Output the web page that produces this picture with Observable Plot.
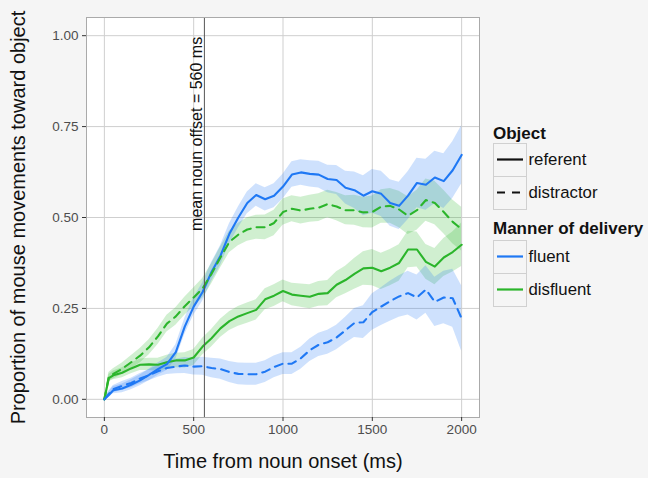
<!DOCTYPE html>
<html>
<head>
<meta charset="utf-8">
<script src="https://cdn.jsdelivr.net/npm/d3@7"></script>
<script src="https://cdn.jsdelivr.net/npm/@observablehq/plot@0.6"></script>
<style>
  html, body { margin: 0; padding: 0; background: #f5f5f5; }
  #wrap { position: relative; width: 648px; height: 478px; font-family: "Liberation Sans", Arial, sans-serif; }
  #legend { position: absolute; left: 0; top: 0; pointer-events: none; }
</style>
</head>
<body>
<div id="wrap"></div>
<script>
// ---- data ----
const times = [0,25,50,100,150,200,250,300,350,400,450,500,550,600,650,700,750,800,850,900,950,1000,1050,1100,1150,1200,1250,1300,1350,1400,1450,1500,1550,1600,1650,1700,1750,1800,1850,1900,1950,2000];

const fluentReferent = [0,0.012,0.025,0.03,0.04,0.052,0.067,0.083,0.097,0.13,0.2,0.255,0.295,0.35,0.395,0.455,0.5,0.54,0.562,0.55,0.56,0.585,0.618,0.624,0.62,0.618,0.606,0.603,0.582,0.575,0.56,0.572,0.565,0.54,0.532,0.56,0.595,0.59,0.61,0.6,0.63,0.672];
const fluentReferentSE = [0.003,0.008,0.01,0.012,0.014,0.015,0.016,0.017,0.018,0.02,0.022,0.024,0.025,0.026,0.027,0.028,0.029,0.03,0.031,0.032,0.033,0.034,0.035,0.035,0.036,0.037,0.038,0.04,0.045,0.05,0.055,0.06,0.062,0.064,0.065,0.066,0.068,0.07,0.072,0.075,0.078,0.08];

const fluentDistractor = [0,0.015,0.028,0.037,0.045,0.057,0.066,0.077,0.086,0.09,0.093,0.09,0.091,0.086,0.083,0.075,0.07,0.069,0.069,0.076,0.089,0.098,0.098,0.113,0.135,0.15,0.157,0.17,0.19,0.21,0.212,0.24,0.255,0.27,0.283,0.292,0.28,0.302,0.268,0.28,0.278,0.222];
const fluentDistractorSE = [0.003,0.008,0.01,0.012,0.013,0.014,0.015,0.016,0.018,0.02,0.022,0.023,0.025,0.027,0.028,0.029,0.03,0.03,0.03,0.03,0.03,0.03,0.03,0.03,0.031,0.032,0.033,0.034,0.036,0.04,0.045,0.05,0.052,0.055,0.057,0.06,0.062,0.065,0.068,0.072,0.08,0.09];

const disfluentReferent = [0,0.058,0.066,0.073,0.085,0.095,0.096,0.095,0.102,0.107,0.107,0.115,0.145,0.168,0.195,0.215,0.228,0.237,0.246,0.275,0.285,0.298,0.288,0.285,0.282,0.29,0.292,0.315,0.328,0.345,0.36,0.362,0.352,0.362,0.375,0.412,0.412,0.378,0.365,0.39,0.405,0.425];
const disfluentReferentSE = [0.003,0.01,0.012,0.014,0.015,0.016,0.017,0.018,0.019,0.02,0.021,0.022,0.023,0.024,0.025,0.026,0.027,0.028,0.028,0.029,0.03,0.03,0.031,0.032,0.033,0.034,0.035,0.036,0.038,0.042,0.046,0.05,0.05,0.05,0.05,0.05,0.048,0.048,0.05,0.052,0.055,0.06];

const disfluentDistractor = [0,0.062,0.07,0.084,0.102,0.12,0.143,0.173,0.208,0.228,0.256,0.28,0.305,0.345,0.39,0.433,0.453,0.467,0.473,0.473,0.485,0.515,0.524,0.519,0.524,0.527,0.537,0.53,0.52,0.52,0.514,0.515,0.53,0.532,0.522,0.505,0.52,0.548,0.54,0.515,0.488,0.468];
const disfluentDistractorSE = [0.003,0.012,0.014,0.016,0.018,0.02,0.021,0.022,0.023,0.024,0.025,0.026,0.027,0.028,0.029,0.03,0.031,0.032,0.033,0.034,0.035,0.036,0.036,0.037,0.037,0.038,0.038,0.039,0.04,0.041,0.042,0.044,0.046,0.048,0.05,0.052,0.055,0.058,0.06,0.06,0.06,0.06];

const xTicks = [0, 500, 1000, 1500, 2000];
const yTicks = [0, 0.25, 0.5, 0.75, 1];
const nounOffset = [560];
const objects = ["referent", "distractor"];
const manners = ["fluent", "disfluent"];
const mannerColors = ["#1f78f4", "#2bb52b"];

// ---- table ----
const seriesDefs = [
  {object: "referent", manner: "disfluent", v: disfluentReferent, se: disfluentReferentSE},
  {object: "distractor", manner: "disfluent", v: disfluentDistractor, se: disfluentDistractorSE},
  {object: "referent", manner: "fluent", v: fluentReferent, se: fluentReferentSE},
  {object: "distractor", manner: "fluent", v: fluentDistractor, se: fluentDistractorSE}
];
const rows = [];
for (const s of seriesDefs) {
  times.forEach((t, i) => rows.push({
    t, v: s.v[i], lo: s.v[i] - s.se[i], hi: s.v[i] + s.se[i],
    object: s.object, manner: s.manner, series: s.manner + "-" + s.object
  }));
}
const refRows = rows.filter(d => d.object === "referent");
const disRows = rows.filter(d => d.object === "distractor");

const font = "'Liberation Sans', Arial, sans-serif";

const chart = Plot.plot({
  width: 648,
  height: 478,
  marginLeft: 86,
  marginRight: 169,
  marginTop: 17,
  marginBottom: 61,
  style: {background: "#f5f5f5", fontFamily: font, overflow: "visible"},
  x: {domain: [-100, 2100]},
  y: {domain: [-0.05, 1.05]},
  color: {domain: manners, range: mannerColors},
  marks: [
    Plot.frame({fill: "white", stroke: null}),
    Plot.gridX(xTicks, {stroke: "#cfcfcf", strokeOpacity: 1, strokeWidth: 1}),
    Plot.gridY(yTicks, {stroke: "#cfcfcf", strokeOpacity: 1, strokeWidth: 1}),
    Plot.areaY(rows, {x: "t", y1: "lo", y2: "hi", z: "series", fill: "manner", fillOpacity: 0.22, curve: "linear"}),
    Plot.line(refRows, {x: "t", y: "v", z: "series", stroke: "manner", strokeWidth: 2.1}),
    Plot.line(disRows, {x: "t", y: "v", z: "series", stroke: "manner", strokeWidth: 2.1, strokeDasharray: "8,6"}),
    Plot.ruleX(nounOffset, {stroke: "#555", strokeWidth: 1}),
    Plot.text(nounOffset, {x: d => d, y: 0.73, text: d => `mean noun offset = ${d} ms`, rotate: -90, dx: -8, fontSize: 16, fill: "#111", textAnchor: "middle"}),
    Plot.frame({stroke: "#aaaaaa", strokeWidth: 1}),
    Plot.axisX(xTicks, {tickSize: 4, tickPadding: 3, fontSize: 13.5, color: "#4d4d4d", stroke: "#333", tickFormat: d => String(d), label: null}),
    Plot.axisY(yTicks, {tickSize: 4, tickPadding: 4, fontSize: 13.5, color: "#4d4d4d", stroke: "#333", tickFormat: d3.format(".2f"), label: null}),
    Plot.text(["Time from noun onset (ms)"], {frameAnchor: "bottom", dy: 50, fontSize: 20, fill: "#111", textAnchor: "middle", text: d => d}),
    Plot.text(["Proportion of mouse movements toward object"], {frameAnchor: "left", dx: -67.5, rotate: -90, fontSize: 20, fill: "#111", textAnchor: "middle", text: d => d})
  ]
});

const wrap = document.getElementById("wrap");
wrap.appendChild(chart);

// ---- legend ----
const lg = d3.select(wrap).append("svg")
  .attr("id", "legend").attr("width", 648).attr("height", 478)
  .style("font-family", font);

const titleSize = 17, labelSize = 16.8;
const keyX = 493, keyW = 33, keyH = 33;

function legendGroup(title, titleY, boxTop, items) {
  lg.append("text").attr("x", keyX).attr("y", titleY).attr("font-weight", "bold")
    .attr("font-size", titleSize).attr("fill", "#111").text(title);
  items.forEach((it, i) => {
    const top = boxTop + i * keyH;
    lg.append("rect").attr("x", keyX + 0.5).attr("y", top + 0.5).attr("width", keyW).attr("height", keyH)
      .attr("fill", "#f5f5f5").attr("stroke", "#d0d0d0").attr("stroke-width", 1);
    const ly = top + keyH / 2;
    lg.append("line").attr("x1", keyX + 4).attr("x2", keyX + keyW - 3).attr("y1", ly).attr("y2", ly)
      .attr("stroke", it.color).attr("stroke-width", 2.2)
      .attr("stroke-dasharray", it.dash || null);
    lg.append("text").attr("x", keyX + keyW + 2.5).attr("y", ly).attr("dy", "0.35em")
      .attr("font-size", labelSize).attr("fill", "#111").text(it.label);
  });
}
legendGroup("Object", 139, 143, [
  {label: objects[0], color: "#111"},
  {label: objects[1], color: "#111", dash: "8,7"}
]);
legendGroup("Manner of delivery", 234, 240, [
  {label: manners[0], color: mannerColors[0]},
  {label: manners[1], color: mannerColors[1]}
]);
</script>
</body>
</html>
